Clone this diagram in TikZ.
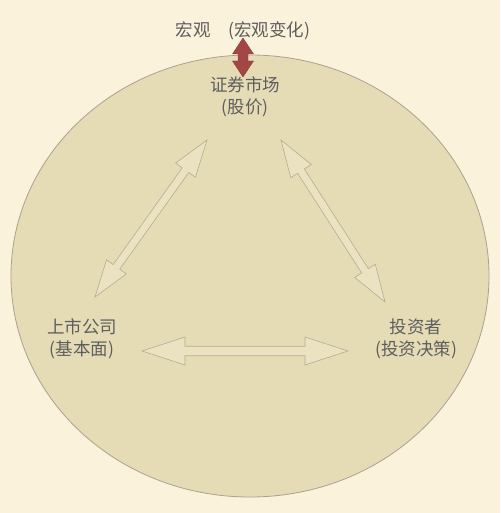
\documentclass[tikz,border=0pt]{standalone}
\usepackage{fontspec}
\newfontfamily\cjk{Noto Sans CJK SC}
\usetikzlibrary{calc}
\definecolor{paper}{HTML}{FAF2DA}
\definecolor{disc}{HTML}{E5DCB5}
\definecolor{rim}{HTML}{A9A291}
\definecolor{pale}{HTML}{EAE2C1}
\definecolor{paleline}{HTML}{B3AC96}
\definecolor{ink}{HTML}{5E5E5E}
\definecolor{wine}{HTML}{A34646}
\tikzset{
word/.style={font=\cjk\fontsize{17.5}{22}\selectfont, text=ink, align=center, inner sep=0pt},
twoway/.style args={#1/#2/#3}{to path={
  -- ($(\tikztostart)!#1!(\tikztotarget)!#2!90:(\tikztotarget)$)
  -- ($(\tikztostart)!#1!(\tikztotarget)!#3!90:(\tikztotarget)$)
  -- ($(\tikztotarget)!#1!(\tikztostart)!#3!-90:(\tikztostart)$)
  -- ($(\tikztotarget)!#1!(\tikztostart)!#2!-90:(\tikztostart)$)
  -- (\tikztotarget)
  -- ($(\tikztotarget)!#1!(\tikztostart)!#2!90:(\tikztostart)$)
  -- ($(\tikztotarget)!#1!(\tikztostart)!#3!90:(\tikztostart)$)
  -- ($(\tikztostart)!#1!(\tikztotarget)!#3!-90:(\tikztotarget)$)
  -- ($(\tikztostart)!#1!(\tikztotarget)!#2!-90:(\tikztotarget)$)
  -- cycle}},
hollow/.style={fill=pale, draw=paleline, line width=0.6pt, line join=miter},
redarrow/.style={fill=wine, draw=wine!85!black, line width=0.4pt, twoway=16pt/10.5pt/5pt}
}
\begin{document}
\begin{tikzpicture}[x=1pt, y=-1pt]
\fill[paper] (0,0) rectangle (500,513);
\draw[fill=disc, draw=rim, line width=0.8pt] (250,276) ellipse [x radius=239, y radius=221];
% labels
\node[word] (macro) at (243,31) {宏观\hspace{18pt}(宏观变化)};
\node[word] (market) at (245,97) {证券市场\\(股价)};
\node[word] (company) at (82,339) {上市公司\\(基本面)};
\node[word] (investor) at (416,339) {投资者\\(投资决策)};
% arrow ends
\coordinate (up1) at (243,38);
\coordinate (up2) at (243,77);
\coordinate (l1) at (95,297);
\coordinate (l2) at (207,140);
\coordinate (r1) at (281,140);
\coordinate (r2) at (385,302);
\coordinate (h1) at (142,351);
\coordinate (h2) at (348,351);
% arrows
\draw[hollow, twoway=37pt/12.2pt/4pt] (l1) to (l2);
\draw[hollow, twoway=37pt/12.2pt/4pt] (r1) to (r2);
\draw[hollow, twoway=43pt/14pt/4.75pt] (h1) to (h2);
\draw[redarrow] (up1) to (up2);
\end{tikzpicture}
\end{document}
